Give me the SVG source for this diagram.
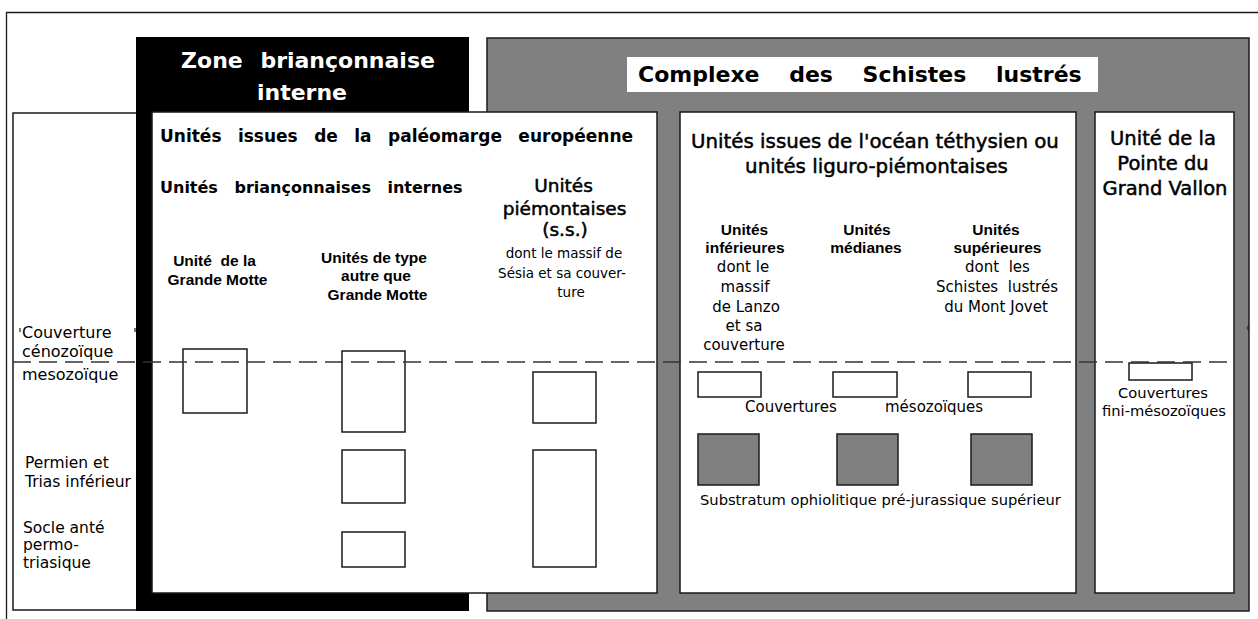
<svg xmlns="http://www.w3.org/2000/svg" width="1258" height="619" viewBox="0 0 1258 619">
<style>
text{font-family:"DejaVu Sans","Liberation Sans",sans-serif;fill:#000}
.b{font-weight:bold}
.w{fill:#fff}
.m{text-anchor:middle}
.med{stroke:#000;stroke-width:0.5px}
.ar{font-family:"Liberation Sans",Arial,sans-serif;font-weight:bold;font-size:15.5px}
.box{fill:#fff;stroke:#1a1a1a;stroke-width:1.5}
.gbox{fill:#808080;stroke:#1a1a1a;stroke-width:1.5}
.lab{font-size:15.5px}
.lab16{font-size:16px}
.desc{font-size:15px}
.gv{font-size:14.7px}
.sub{font-size:14.7px}
.tick{stroke:#1a1a1a;stroke-width:1.2}
</style>
<rect width="1258" height="619" fill="#fff"/>

<g id="frame">
<path d="M6.5 619V12.5H1258" fill="none" stroke="#1a1a1a" stroke-width="1.3"/>
</g>

<g id="strati-column">
<rect class="box" x="13" y="113" width="124" height="497"/>
<text class="lab16" x="22" y="338">Couverture</text>
<text class="lab16" x="22" y="357">cénozoïque</text>
<text class="lab16" x="22" y="380">mesozoïque</text>
<text class="lab" x="25" y="468">Permien et</text>
<text class="lab" x="25" y="487">Trias inférieur</text>
<text class="lab" x="23" y="533">Socle anté</text>
<text class="lab" x="23" y="550">permo-</text>
<text class="lab" x="23" y="568">triasique</text>
<line class="tick" x1="20" y1="328" x2="20" y2="332"/>
<line class="tick" x1="135" y1="328" x2="135" y2="332"/>
</g>

<g id="zone-brianconnaise">
<rect x="136" y="37" width="333" height="574" fill="#000"/>
<text class="b w m" x="308" y="68" font-size="22" word-spacing="10">Zone briançonnaise</text>
<text class="b w m" x="302" y="100" font-size="22">interne</text>
</g>

<g id="complexe-schistes-lustres">
<rect class="gbox" x="487" y="38" width="762" height="573"/>
<rect x="627" y="57" width="471" height="35" fill="#fff"/>
<text class="b" x="638" y="82" font-size="22" word-spacing="22">Complexe des Schistes lustrés</text>
<line class="tick" x1="1248" y1="326" x2="1248" y2="330"/>
</g>

<g id="paleomarge">
<rect class="box" x="152" y="112" width="505" height="481"/>
<text class="b" x="160" y="142" font-size="17" word-spacing="10.5">Unités issues de la paléomarge européenne</text>
<text class="b" x="160" y="193" font-size="16" word-spacing="11">Unités briançonnaises internes</text>
</g>

<g id="grande-motte">
<text class="ar m" x="214.5" y="266">Unité&#160; de la</text>
<text class="ar m" x="217.5" y="285">Grande Motte</text>
<rect class="box" x="183" y="349" width="64" height="64"/>
</g>

<g id="type-autre">
<text class="ar m" x="374" y="263">Unités de type</text>
<text class="ar m" x="376" y="281">autre que</text>
<text class="ar m" x="377.5" y="300">Grande Motte</text>
<rect class="box" x="342" y="351" width="63" height="81"/>
<rect class="box" x="342" y="450" width="63" height="53"/>
<rect class="box" x="342" y="532" width="63" height="35"/>
</g>

<g id="piemontaises">
<text class="med m" x="563.5" y="192" font-size="18.5">Unités</text>
<text class="med m" x="564.5" y="215" font-size="18.5">piémontaises</text>
<text class="med m" x="565" y="236" font-size="18.5">(s.s.)</text>
<text class="m" x="564" y="258" font-size="13.5">dont le massif de</text>
<text class="m" x="562" y="278" font-size="13.5">Sésia et sa couver-</text>
<text class="m" x="571" y="297" font-size="13.5">ture</text>
<rect class="box" x="533" y="372" width="63" height="51"/>
<rect class="box" x="533" y="450" width="63" height="117"/>
</g>

<g id="ocean">
<rect class="box" x="680" y="112" width="396" height="481"/>
<text class="med m" x="875" y="148" font-size="19.8">Unités issues de l'océan téthysien ou</text>
<text class="med m" x="876.5" y="173" font-size="19.8">unités liguro-piémontaises</text>
<text class="desc" x="745" y="412">Couvertures</text>
<text class="desc" x="885" y="412">mésozoïques</text>
<text class="sub" x="700" y="505">Substratum ophiolitique pré-jurassique supérieur</text>
</g>

<g id="unites-inferieures">
<text class="ar m" x="744.5" y="235">Unités</text>
<text class="ar m" x="745" y="253">inférieures</text>
<text class="desc m" x="743" y="272">dont le</text>
<text class="desc m" x="745" y="292">massif</text>
<text class="desc m" x="746" y="311.5">de Lanzo</text>
<text class="desc m" x="744" y="331">et sa</text>
<text class="desc m" x="744" y="350">couverture</text>
<rect class="box" x="698" y="372" width="63" height="25"/>
<rect class="gbox" x="698" y="434" width="61" height="51"/>
</g>

<g id="unites-medianes">
<text class="ar m" x="867" y="235">Unités</text>
<text class="ar m" x="866" y="253">médianes</text>
<rect class="box" x="833" y="372" width="64" height="25"/>
<rect class="gbox" x="837" y="434" width="61" height="51"/>
</g>

<g id="unites-superieures">
<text class="ar m" x="996" y="235">Unités</text>
<text class="ar m" x="997.5" y="253">supérieures</text>
<text class="desc m" x="997.5" y="272">dont&#160; les</text>
<text class="desc m" x="997" y="292">Schistes&#160; lustrés</text>
<text class="desc m" x="996" y="311.5">du Mont Jovet</text>
<rect class="box" x="968" y="372" width="63" height="25"/>
<rect class="gbox" x="971" y="434" width="61" height="51"/>
</g>

<g id="grand-vallon">
<rect class="box" x="1095" y="112" width="139" height="481"/>
<text class="med m" x="1163" y="145" font-size="19.5">Unité de la</text>
<text class="med m" x="1163" y="170" font-size="19.5">Pointe du</text>
<text class="med m" x="1165" y="195" font-size="19.5">Grand Vallon</text>
<rect class="box" x="1129" y="363" width="63" height="17"/>
<text class="gv m" x="1163" y="398">Couvertures</text>
<text class="gv m" x="1164" y="416">fini-mésozoïques</text>
</g>

<g id="connectors">
<line x1="13" y1="362" x2="1234" y2="362" stroke="#333" stroke-width="1.4" stroke-dasharray="18 8"/>
</g>
</svg>
